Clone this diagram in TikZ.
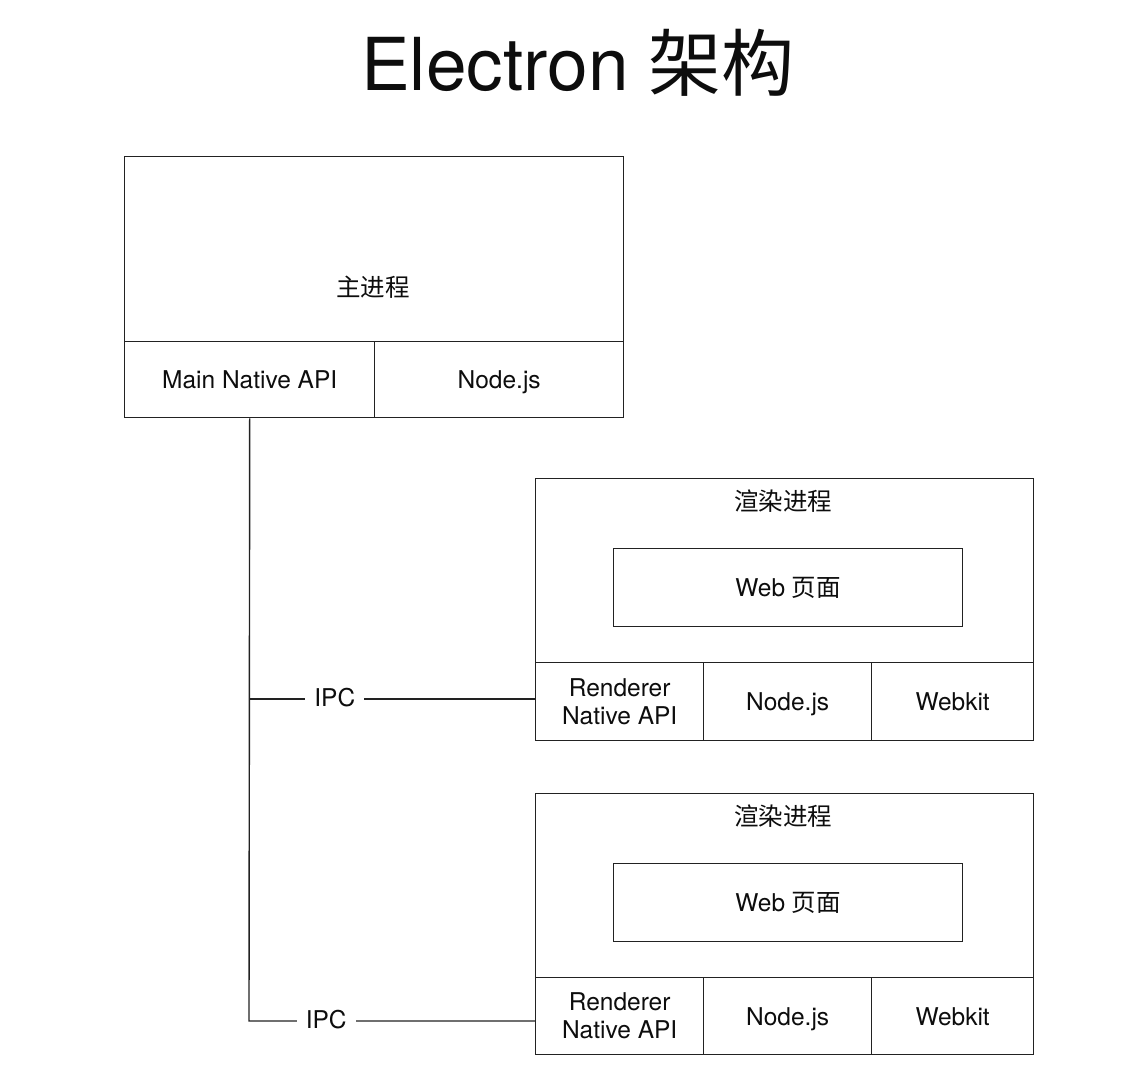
\documentclass[tikz,border=0pt]{standalone}
\usepackage{fontspec}
\setmainfont{TeX Gyre Heros}
\newfontfamily\cjk{Noto Sans CJK SC}
\definecolor{linecol}{HTML}{222222}
\definecolor{txtcol}{HTML}{0d0d0d}
\begin{document}
\begin{tikzpicture}[x=1pt,y=-1pt,
  box/.style={draw=linecol,line width=1.4pt,rectangle,inner sep=0pt,anchor=north west},
  txt/.style={text=txtcol,font=\fontsize{24.5}{28}\selectfont,align=center,inner sep=0pt},
  one/.style={text height=21pt,text depth=3pt},
  conn/.style={draw=linecol,line width=1.4pt},
  ipc/.style={txt,text height=19pt,text depth=5pt,fill=white,inner xsep=9pt,inner ysep=0pt}
]
\useasboundingbox[fill=white] (0,0) rectangle (1144,1077);

% title
\node[text=txtcol,font=\fontsize{73}{80}\selectfont,anchor=base,inner sep=0pt] (title) at (578,90) {Electron {\cjk 架构}};

% main process
\node[box,minimum width=499pt,minimum height=185pt] (main) at (124,156) {};
\node[txt,one] (mainlbl) at (373,287) {\cjk 主进程};
\node[box,minimum width=250pt,minimum height=76pt,txt,one,anchor=north west] (mna) at (124,341) {Main Native API};
\node[box,minimum width=249pt,minimum height=76pt,txt,one,anchor=north west] (mnode) at (374,341) {Node.js};

% renderer 1
\node[box,minimum width=498pt,minimum height=184pt] (r1) at (535,478) {};
\node[txt,one] (r1lbl) at (783,501) {\cjk 渲染进程};
\node[box,minimum width=349pt,minimum height=78pt,txt,one,anchor=north west] (r1web) at (613,548) {Web {\cjk 页面}};
\node[box,minimum width=168pt,minimum height=78pt,txt,anchor=north west] (r1n) at (535,662) {Renderer\\Native API};
\node[box,minimum width=168pt,minimum height=78pt,txt,one,anchor=north west] (r1node) at (703,662) {Node.js};
\node[box,minimum width=162pt,minimum height=78pt,txt,one,anchor=north west] (r1wk) at (871,662) {Webkit};

% renderer 2
\node[box,minimum width=498pt,minimum height=184pt] (r2) at (535,793) {};
\node[txt,one] (r2lbl) at (783,816) {\cjk 渲染进程};
\node[box,minimum width=349pt,minimum height=78pt,txt,one,anchor=north west] (r2web) at (613,863) {Web {\cjk 页面}};
\node[box,minimum width=168pt,minimum height=77pt,txt,anchor=north west] (r2n) at (535,977) {Renderer\\Native API};
\node[box,minimum width=168pt,minimum height=77pt,txt,one,anchor=north west] (r2node) at (703,977) {Node.js};
\node[box,minimum width=162pt,minimum height=77pt,txt,one,anchor=north west] (r2wk) at (871,977) {Webkit};

% connectors
\coordinate (ipc1) at (249,699);
\coordinate (ipc2) at (249,1021);
\draw[conn] (mna.south) -- (ipc2) -- (ipc2 -| r2n.west) node[ipc,pos=0.27] {IPC};
\draw[conn] (ipc1) -- (ipc1 -| r1n.west) node[ipc,pos=0.30] {IPC};
\end{tikzpicture}
\end{document}
